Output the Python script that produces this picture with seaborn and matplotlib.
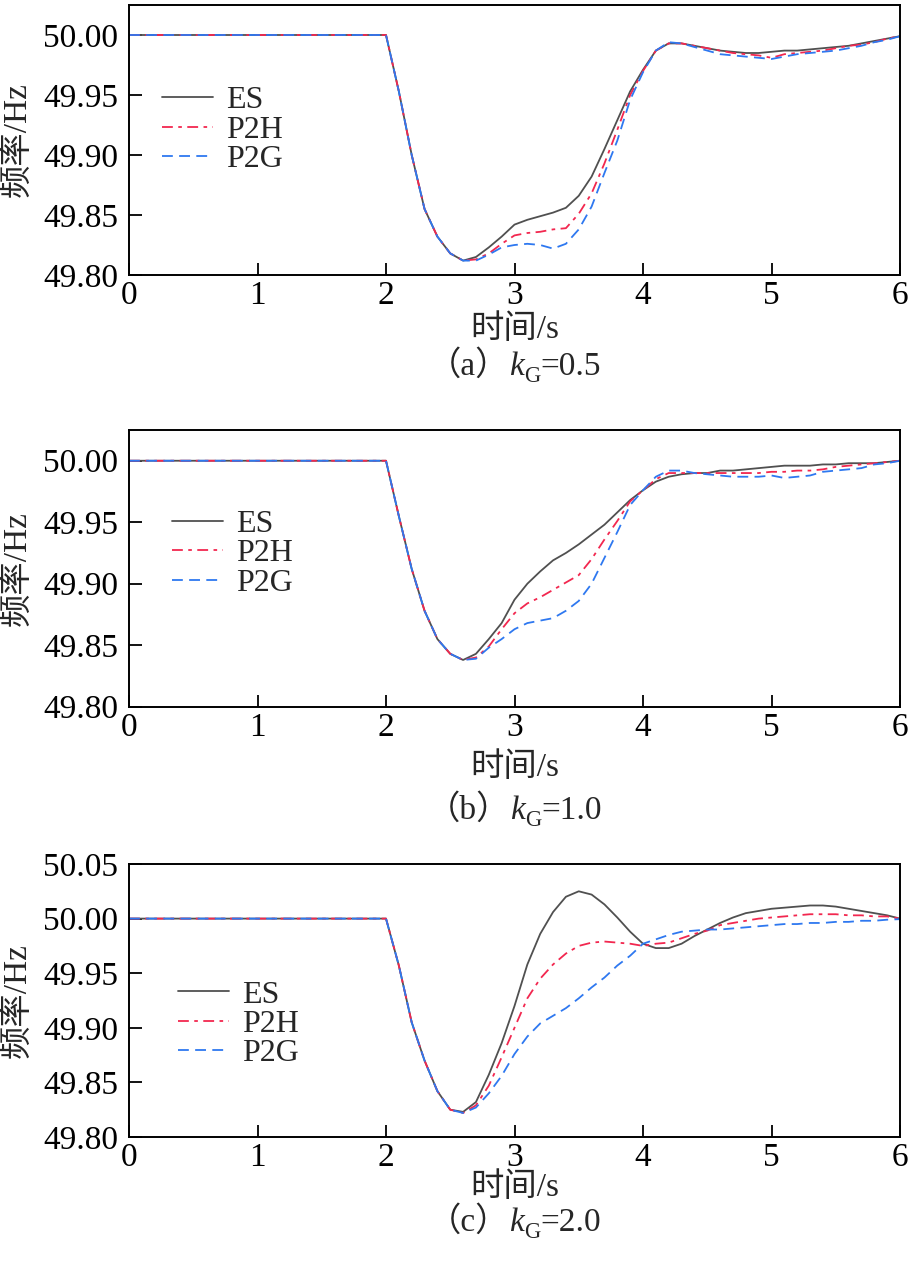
import numpy as np
import pandas as pd
import matplotlib
matplotlib.use("Agg")
import matplotlib.pyplot as plt
import seaborn as sns

# ---------------- data ----------------
time_s = [0.0, 2.0, 2.1, 2.2, 2.3, 2.4, 2.5, 2.6, 2.7, 2.8, 2.9,
          3.0, 3.1, 3.2, 3.3, 3.4, 3.5, 3.6, 3.7, 3.8, 3.9,
          4.0, 4.1, 4.2, 4.3, 4.4, 4.5, 4.6, 4.7, 4.8, 4.9,
          5.0, 5.1, 5.2, 5.3, 5.4, 5.5, 5.6, 5.7, 5.8, 5.9, 6.0]

series_names = ["ES", "P2H", "P2G"]

# panel (a) kG = 0.5
a_es = [50.000, 50.000, 49.953, 49.900, 49.855, 49.832, 49.818, 49.812, 49.815, 49.823, 49.832,
        49.842, 49.846, 49.849, 49.852, 49.856, 49.866, 49.882, 49.905, 49.929, 49.953,
        49.971, 49.987, 49.993, 49.993, 49.991, 49.989, 49.987, 49.986, 49.985, 49.985,
        49.986, 49.987, 49.987, 49.988, 49.989, 49.990, 49.991, 49.993, 49.995, 49.997, 49.999]
a_p2h = [50.000, 50.000, 49.953, 49.900, 49.855, 49.832, 49.818, 49.812, 49.813, 49.818, 49.826,
         49.833, 49.835, 49.836, 49.838, 49.839, 49.851, 49.868, 49.893, 49.921, 49.950,
         49.970, 49.987, 49.993, 49.993, 49.991, 49.989, 49.987, 49.985, 49.984, 49.983,
         49.981, 49.984, 49.985, 49.986, 49.987, 49.989, 49.991, 49.992, 49.994, 49.997, 49.999]
a_p2g = [50.000, 50.000, 49.953, 49.900, 49.855, 49.832, 49.818, 49.812, 49.812, 49.817, 49.823,
         49.825, 49.826, 49.825, 49.822, 49.826, 49.838, 49.857, 49.885, 49.912, 49.946,
         49.969, 49.987, 49.994, 49.993, 49.990, 49.987, 49.984, 49.983, 49.982, 49.981,
         49.980, 49.982, 49.984, 49.985, 49.986, 49.987, 49.989, 49.991, 49.994, 49.996, 49.999]

# panel (b) kG = 1.0
b_es = [50.000, 50.000, 49.955, 49.912, 49.878, 49.855, 49.843, 49.838, 49.843, 49.855, 49.868,
        49.887, 49.900, 49.910, 49.919, 49.925, 49.932, 49.940, 49.948, 49.958, 49.968,
        49.976, 49.983, 49.987, 49.989, 49.990, 49.990, 49.992, 49.992, 49.993, 49.994,
        49.995, 49.996, 49.996, 49.996, 49.997, 49.997, 49.998, 49.998, 49.998, 49.999, 50.000]
b_p2h = [50.000, 50.000, 49.955, 49.912, 49.878, 49.855, 49.843, 49.838, 49.840, 49.849, 49.863,
         49.876, 49.884, 49.889, 49.895, 49.901, 49.907, 49.920, 49.936, 49.951, 49.967,
         49.976, 49.985, 49.990, 49.990, 49.990, 49.990, 49.990, 49.990, 49.990, 49.990,
         49.991, 49.991, 49.992, 49.992, 49.993, 49.995, 49.996, 49.997, 49.998, 49.999, 50.000]
b_p2g = [50.000, 50.000, 49.955, 49.912, 49.878, 49.855, 49.843, 49.838, 49.839, 49.848, 49.855,
         49.863, 49.868, 49.870, 49.872, 49.878, 49.886, 49.900, 49.921, 49.942, 49.964,
         49.976, 49.987, 49.992, 49.992, 49.990, 49.989, 49.988, 49.987, 49.987, 49.987,
         49.988, 49.986, 49.987, 49.988, 49.991, 49.992, 49.993, 49.994, 49.997, 49.998, 50.000]

# panel (c) kG = 2.0
c_es = [50.000, 50.000, 49.957, 49.905, 49.870, 49.842, 49.825, 49.823, 49.832, 49.857, 49.886,
        49.920, 49.958, 49.986, 50.006, 50.020, 50.025, 50.022, 50.013, 50.001, 49.988,
        49.977, 49.973, 49.973, 49.977, 49.984, 49.990, 49.996, 50.001, 50.005, 50.007,
        50.009, 50.010, 50.011, 50.012, 50.012, 50.011, 50.009, 50.007, 50.005, 50.003, 50.000]
c_p2h = [50.000, 50.000, 49.957, 49.905, 49.870, 49.842, 49.825, 49.822, 49.829, 49.847, 49.873,
         49.900, 49.927, 49.945, 49.958, 49.968, 49.975, 49.978, 49.979, 49.978, 49.977,
         49.975, 49.977, 49.978, 49.982, 49.986, 49.989, 49.994, 49.996, 49.998, 50.000,
         50.001, 50.002, 50.003, 50.004, 50.004, 50.004, 50.003, 50.003, 50.002, 50.002, 50.000]
c_p2g = [50.000, 50.000, 49.957, 49.905, 49.870, 49.842, 49.825, 49.822, 49.827, 49.840, 49.856,
         49.876, 49.892, 49.904, 49.911, 49.918, 49.927, 49.937, 49.946, 49.957, 49.966,
         49.977, 49.981, 49.985, 49.988, 49.989, 49.990, 49.990, 49.991, 49.992, 49.993,
         49.994, 49.995, 49.995, 49.996, 49.996, 49.997, 49.997, 49.998, 49.998, 49.999, 49.9995]

x_ticks = [0, 1, 2, 3, 4, 5, 6]
y_ticks_ab = [49.80, 49.85, 49.90, 49.95, 50.00]
y_ticks_c = [49.80, 49.85, 49.90, 49.95, 50.00, 50.05]
captions = ["a", "b", "c"]
kg_values = ["0.5", "1.0", "2.0"]

# ---------------- style ----------------
sns.set_theme(style="ticks")
SERIF = "Liberation Serif"
CJK = "Noto Sans CJK SC"
plt.rcParams["font.family"] = [SERIF, CJK]
plt.rcParams["mathtext.fontset"] = "stix"
plt.rcParams["axes.unicode_minus"] = False

colors = {"ES": "#505050", "P2H": "#f2274f", "P2G": "#2e78f0"}
styles = {"ES": "-", "P2H": (0, (6, 3, 2, 3)), "P2G": (0, (6, 3.5))}

FS = 24
LFS = 23
fig = plt.figure(figsize=(9.11, 12.62), dpi=100)
H = 1262.0
W = 911.0

axes_px = [(5, 275), (430, 706.7), (864, 1137)]
ylims = [(49.80, 50.025), (49.80, 50.025), (49.80, 50.05)]
yticks_list = [y_ticks_ab, y_ticks_ab, y_ticks_c]
data_sets = [(a_es, a_p2h, a_p2g), (b_es, b_p2h, b_p2g), (c_es, c_p2h, c_p2g)]
legend_anchor = [(0.043, 0.70), (0.056, 0.712), (0.064, 0.574)]
xlabel_y = [330, 768, 1188]
caption_y = [366, 810, 1222]

renderer = fig.canvas.get_renderer()


def caption(fig, cx_px, cy_px, letter, kval):
    """Draw '（a）k_G=0.5' as separate pieces centred at (cx_px, cy_px)."""
    pieces = [
        ("（" + letter + "）", dict(family=[SERIF, CJK], fontsize=FS), 0),
        ("k", dict(family=SERIF, style="italic", fontsize=FS), 0),
        ("G", dict(family=SERIF, fontsize=FS * 0.68), -7),
        ("=" + kval, dict(family=SERIF, fontsize=FS), 0),
    ]
    objs = []
    x = 0.0
    for txt, kw, dy in pieces:
        t = fig.text(0, 0, txt, ha="left", va="baseline", **kw)
        w = t.get_window_extent(renderer).width
        objs.append((t, x, dy))
        x += w
    total = x
    x0 = cx_px - total / 2
    base = H - cy_px - 9
    for t, xo, dy in objs:
        t.set_position(((x0 + xo) / W, (base + dy) / H))


left_px, right_px = 129, 900
for i in range(3):
    top, bot = axes_px[i]
    ax = fig.add_axes([left_px / W, 1 - bot / H, (right_px - left_px) / W, (bot - top) / H])
    es, p2h, p2g = data_sets[i]
    df = pd.DataFrame({
        "t": time_s * 3,
        "f": list(es) + list(p2h) + list(p2g),
        "series": ["ES"] * len(time_s) + ["P2H"] * len(time_s) + ["P2G"] * len(time_s),
    })
    for name in series_names:
        sub = df[df["series"] == name]
        sns.lineplot(data=sub, x="t", y="f", ax=ax, color=colors[name],
                     linestyle=styles[name], linewidth=1.3, label=name,
                     estimator=None, sort=False)
    ax.set_xlim(0, 6)
    ax.set_ylim(*ylims[i])
    ax.set_xticks(x_ticks)
    ax.set_xticklabels([str(v) for v in x_ticks])
    ax.set_yticks(yticks_list[i])
    ax.set_yticklabels([f"{v:.2f}" for v in yticks_list[i]])
    ax.tick_params(direction="in", length=9, width=1.3, labelsize=FS, colors="black",
                   top=False, right=False)
    ax.tick_params(axis="y", pad=8)
    ax.tick_params(axis="x", pad=4)
    for sp in ax.spines.values():
        sp.set_visible(True)
        sp.set_linewidth(1.4)
        sp.set_color("black")
    ax.set_xlabel("")
    ax.set_ylabel("频率/Hz", fontsize=FS, labelpad=2)
    ax.yaxis.set_label_coords(-0.125, 0.5)
    ax.legend(loc="upper left", bbox_to_anchor=legend_anchor[i], frameon=False,
              fontsize=LFS, handlelength=1.6, handletextpad=0.4, labelspacing=0.0,
              borderpad=0, borderaxespad=0)
    cx = (left_px + right_px) / 2
    fig.text(cx / W, 1 - xlabel_y[i] / H, "时间/s", ha="center", va="center", fontsize=FS)
    caption(fig, cx, caption_y[i], captions[i], kg_values[i])

fig.savefig("out.png", dpi=100)
